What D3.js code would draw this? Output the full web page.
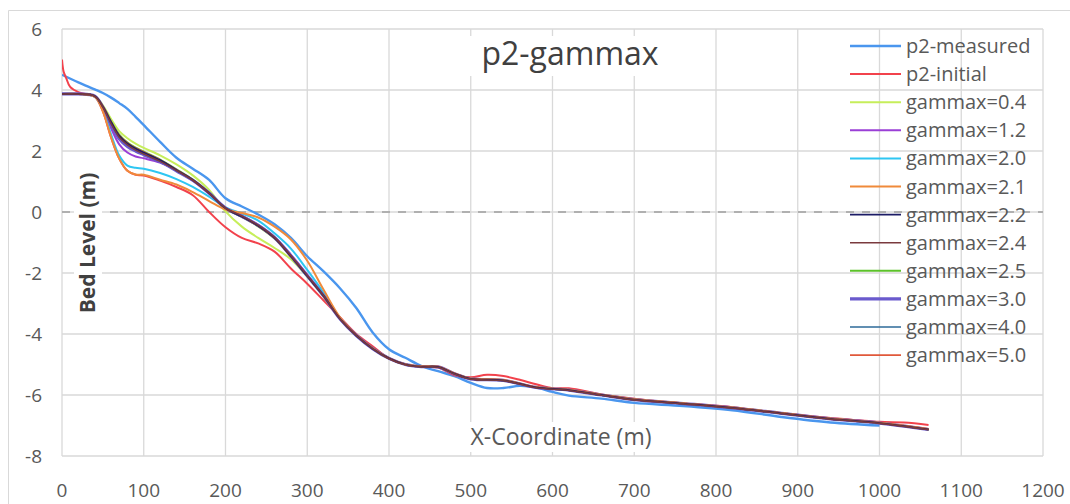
<!DOCTYPE html>
<html>
<head>
<meta charset="utf-8">
<script src="https://cdn.jsdelivr.net/npm/d3@7"></script>
<style>
  body { margin: 0; background: #fff; }
  text { font-family: "Open Sans", sans-serif; }
</style>
</head>
<body>
<svg id="chart"></svg>
<script>
const width = 1070;
const height = 504;

// x positions (m)
const xMeasured = [0,20,40,50,60,70,80,90,100,120,140,160,180,200,220,240,260,280,300,320,340,360,380,400,420,440,460,480,500,520,540,560,580,600,620,660,700,760,820,880,940,1000];
const xInitial = [0,2,5,10,20,30,40,50,60,70,80,90,100,120,140,160,180,200,220,240,260,280,300,320,340,360,380,400,420,440,460,480,500,520,540,560,580,600,620,660,700,760,820,880,940,1000,1030,1060];
const xModel = [0,20,40,50,60,70,80,90,100,120,140,160,180,200,220,240,260,280,300,320,340,360,380,400,420,440,460,480,500,540,580,620,660,700,760,820,880,940,1000,1060];

// bed levels (m)
const measured = [4.5,4.25,4.02,3.9,3.75,3.57,3.38,3.12,2.85,2.3,1.78,1.42,1.05,0.45,0.18,-0.08,-0.4,-0.85,-1.45,-1.95,-2.5,-3.15,-3.95,-4.5,-4.78,-5.05,-5.22,-5.38,-5.6,-5.77,-5.77,-5.7,-5.75,-5.9,-6.02,-6.12,-6.26,-6.36,-6.5,-6.72,-6.9,-7.0];
const initial = [5.0,4.6,4.4,4.1,3.93,3.86,3.8,3.3,2.45,1.75,1.35,1.22,1.2,1.03,0.82,0.55,0.0,-0.5,-0.85,-1.03,-1.3,-1.85,-2.35,-2.9,-3.45,-4.0,-4.4,-4.8,-5.0,-5.08,-5.1,-5.35,-5.42,-5.34,-5.38,-5.5,-5.65,-5.78,-5.78,-5.98,-6.12,-6.28,-6.4,-6.6,-6.75,-6.88,-6.9,-6.98];
const g04 = [3.87,3.87,3.8,3.5,3.05,2.65,2.42,2.24,2.1,1.86,1.56,1.2,0.72,0.02,-0.48,-0.85,-1.18,-1.55,-2.12,-2.78,-3.5,-4.05,-4.48,-4.8,-5.0,-5.07,-5.08,-5.3,-5.47,-5.52,-5.75,-5.84,-6.0,-6.15,-6.28,-6.42,-6.6,-6.78,-6.92,-7.13];
const g12 = [3.87,3.87,3.8,3.42,2.75,2.22,1.95,1.82,1.76,1.62,1.36,1.03,0.6,0.14,-0.12,-0.42,-0.82,-1.4,-2.05,-2.72,-3.5,-4.05,-4.48,-4.8,-5.0,-5.07,-5.08,-5.3,-5.47,-5.52,-5.75,-5.84,-6.0,-6.15,-6.28,-6.42,-6.6,-6.78,-6.92,-7.13];
const g20 = [3.87,3.87,3.78,3.35,2.55,1.85,1.52,1.45,1.42,1.28,1.08,0.82,0.5,0.15,-0.05,-0.28,-0.7,-1.2,-1.9,-2.65,-3.48,-4.05,-4.48,-4.8,-5.0,-5.07,-5.08,-5.3,-5.47,-5.52,-5.75,-5.84,-6.0,-6.15,-6.28,-6.42,-6.6,-6.78,-6.92,-7.13];
const g21 = [3.87,3.87,3.78,3.3,2.45,1.75,1.35,1.23,1.22,1.06,0.9,0.65,0.36,0.08,-0.03,-0.18,-0.48,-0.9,-1.6,-2.55,-3.45,-4.04,-4.47,-4.8,-5.0,-5.06,-5.07,-5.29,-5.46,-5.51,-5.74,-5.83,-5.99,-6.14,-6.27,-6.41,-6.59,-6.77,-6.91,-7.12];
const g22 = [3.87,3.87,3.8,3.45,2.95,2.5,2.25,2.08,1.95,1.7,1.38,1.05,0.62,0.12,-0.15,-0.45,-0.85,-1.45,-2.1,-2.75,-3.5,-4.05,-4.48,-4.8,-5.0,-5.07,-5.08,-5.3,-5.47,-5.52,-5.75,-5.84,-6.0,-6.15,-6.28,-6.42,-6.6,-6.78,-6.92,-7.13];
const g24 = [3.87,3.87,3.8,3.44,2.9,2.45,2.2,2.03,1.9,1.66,1.36,1.04,0.62,0.13,-0.13,-0.43,-0.83,-1.43,-2.08,-2.74,-3.5,-4.05,-4.48,-4.81,-5.01,-5.08,-5.09,-5.31,-5.48,-5.53,-5.76,-5.85,-6.01,-6.16,-6.29,-6.43,-6.61,-6.79,-6.93,-7.14];
const g25 = [3.87,3.87,3.8,3.46,2.97,2.54,2.28,2.11,1.98,1.72,1.4,1.06,0.63,0.12,-0.16,-0.47,-0.87,-1.46,-2.1,-2.76,-3.5,-4.05,-4.48,-4.8,-5.0,-5.07,-5.08,-5.3,-5.47,-5.52,-5.75,-5.84,-6.0,-6.15,-6.28,-6.42,-6.6,-6.78,-6.92,-7.13];
const g30 = [3.87,3.87,3.8,3.43,2.88,2.4,2.15,2.0,1.88,1.65,1.35,1.04,0.62,0.13,-0.14,-0.44,-0.84,-1.44,-2.09,-2.75,-3.5,-4.05,-4.48,-4.8,-5.0,-5.07,-5.08,-5.3,-5.47,-5.52,-5.75,-5.84,-6.0,-6.15,-6.28,-6.42,-6.6,-6.78,-6.92,-7.13];
const g40 = [3.87,3.87,3.8,3.45,2.92,2.47,2.22,2.05,1.92,1.68,1.37,1.05,0.62,0.12,-0.15,-0.45,-0.85,-1.45,-2.1,-2.75,-3.5,-4.05,-4.48,-4.8,-5.0,-5.07,-5.08,-5.3,-5.47,-5.52,-5.75,-5.84,-6.0,-6.15,-6.28,-6.42,-6.6,-6.78,-6.92,-7.13];
const g50 = [3.87,3.87,3.8,3.46,2.96,2.52,2.27,2.1,1.97,1.71,1.39,1.05,0.62,0.12,-0.15,-0.46,-0.86,-1.46,-2.1,-2.76,-3.5,-4.04,-4.47,-4.79,-4.99,-5.06,-5.07,-5.29,-5.46,-5.51,-5.74,-5.83,-5.99,-6.14,-6.27,-6.41,-6.59,-6.77,-6.91,-7.11];

const xTicks = [0,100,200,300,400,500,600,700,800,900,1000,1100,1200];
const yTicks = [-8,-6,-4,-2,0,2,4,6];

// legend order
const series = [
  { name: "p2-measured", xs: xMeasured, ys: measured, color: "#4a96ee", w: 2.4 },
  { name: "p2-initial", xs: xInitial, ys: initial, color: "#f2424c", w: 2 },
  { name: "gammax=0.4", xs: xModel, ys: g04, color: "#c6ee5a", w: 2 },
  { name: "gammax=1.2", xs: xModel, ys: g12, color: "#9a3fd6", w: 2 },
  { name: "gammax=2.0", xs: xModel, ys: g20, color: "#2ec6f2", w: 2 },
  { name: "gammax=2.1", xs: xModel, ys: g21, color: "#f08a3a", w: 2 },
  { name: "gammax=2.2", xs: xModel, ys: g22, color: "#1c1c66", w: 1.8 },
  { name: "gammax=2.4", xs: xModel, ys: g24, color: "#7a3a3e", w: 1.6 },
  { name: "gammax=2.5", xs: xModel, ys: g25, color: "#5cc22a", w: 2 },
  { name: "gammax=3.0", xs: xModel, ys: g30, color: "#6a5acd", w: 3.2 },
  { name: "gammax=4.0", xs: xModel, ys: g40, color: "#2c6a98", w: 1.6 },
  { name: "gammax=5.0", xs: xModel, ys: g50, color: "#e0583a", w: 1.6 }
];
// draw order so the dark runs sit on top, like the picture
const drawOrder = ["p2-measured","p2-initial","gammax=0.4","gammax=1.2","gammax=2.0","gammax=2.5","gammax=3.0","gammax=4.0","gammax=5.0","gammax=2.1","gammax=2.2","gammax=2.4"];

const x = d3.scaleLinear().domain([0, 1200]).range([62, 1043]);
const y = d3.scaleLinear().domain([-8, 6]).range([456, 29]);

const svg = d3.select("#chart")
  .attr("width", width)
  .attr("height", height);

// chart border
svg.append("path")
  .attr("d", "M8.5,504 L8.5,10.5 L1070,10.5")
  .attr("fill", "none")
  .attr("stroke", "#d9d9d9");

// grid
svg.append("g")
  .selectAll("line.v")
  .data(xTicks)
  .enter().append("line")
  .attr("x1", d => x(d)).attr("x2", d => x(d))
  .attr("y1", y(6)).attr("y2", y(-8))
  .attr("stroke", "#d9d9d9")
  .attr("stroke-width", 1.3);

svg.append("g")
  .selectAll("line.h")
  .data(yTicks)
  .enter().append("line")
  .attr("x1", x(0)).attr("x2", x(1200))
  .attr("y1", d => y(d)).attr("y2", d => y(d))
  .attr("stroke", "#d9d9d9")
  .attr("stroke-width", 1.3);

// zero line, dashed
svg.append("line")
  .attr("x1", x(0)).attr("x2", x(1200))
  .attr("y1", y(0)).attr("y2", y(0))
  .attr("stroke", "#a0a0a0")
  .attr("stroke-width", 1.6)
  .attr("stroke-dasharray", "8,8");

// tick labels
svg.append("g")
  .selectAll("text")
  .data(yTicks)
  .enter().append("text")
  .attr("x", 42)
  .attr("y", d => y(d))
  .attr("dy", "0.35em")
  .attr("text-anchor", "end")
  .attr("font-size", 19)
  .attr("fill", "#595959")
  .text(d => d);

svg.append("g")
  .selectAll("text")
  .data(xTicks)
  .enter().append("text")
  .attr("x", d => x(d))
  .attr("y", 497)
  .attr("text-anchor", "middle")
  .attr("font-size", 19)
  .attr("fill", "#595959")
  .text(d => d);

// curves
svg.append("clipPath").attr("id", "plot-clip")
  .append("rect")
  .attr("x", x(0)).attr("y", y(6))
  .attr("width", x(1200) - x(0)).attr("height", y(-8) - y(6));

const line = d3.line()
  .x(d => x(d[0]))
  .y(d => y(d[1]))
  .curve(d3.curveCatmullRom.alpha(0.5));

const byName = new Map(series.map(s => [s.name, s]));

svg.append("g")
  .attr("clip-path", "url(#plot-clip)")
  .selectAll("path")
  .data(drawOrder.map(n => byName.get(n)))
  .enter().append("path")
  .attr("d", s => line(s.xs.map((v, i) => [v, s.ys[i]])))
  .attr("fill", "none")
  .attr("stroke", s => s.color)
  .attr("stroke-width", s => s.w)
  .attr("stroke-linejoin", "round");

// axis titles with white backing
svg.append("rect")
  .attr("x", 74).attr("y", 160).attr("width", 28).attr("height", 166)
  .attr("fill", "#fff");
svg.append("text")
  .attr("transform", "translate(95,243) rotate(-90)")
  .attr("text-anchor", "middle")
  .attr("font-size", 21)
  .attr("font-weight", "bold")
  .attr("fill", "#404040")
  .text("Bed Level (m)");

svg.append("rect")
  .attr("x", 458).attr("y", 422).attr("width", 206).attr("height", 30)
  .attr("fill", "#fff");
svg.append("text")
  .attr("x", 561)
  .attr("y", 445)
  .attr("text-anchor", "middle")
  .attr("font-size", 23)
  .attr("fill", "#595959")
  .text("X-Coordinate (m)");

// title
svg.append("rect")
  .attr("x", 470).attr("y", 36).attr("width", 200).attr("height", 40)
  .attr("fill", "#fff");
svg.append("text")
  .attr("x", 570)
  .attr("y", 65)
  .attr("text-anchor", "middle")
  .attr("font-size", 32)
  .attr("fill", "#404040")
  .text("p2-gammax");

// legend
const legend = svg.append("g")
  .selectAll("g")
  .data(series)
  .enter().append("g")
  .attr("transform", (d, i) => `translate(850,${46 + i * 28.1})`);

legend.append("line")
  .attr("x1", 0).attr("x2", 51)
  .attr("stroke", d => d.color)
  .attr("stroke-width", d => d.w);

legend.append("text")
  .attr("x", 56)
  .attr("dy", "0.35em")
  .attr("font-size", 20)
  .attr("fill", "#595959")
  .text(d => d.name);
</script>
</body>
</html>
